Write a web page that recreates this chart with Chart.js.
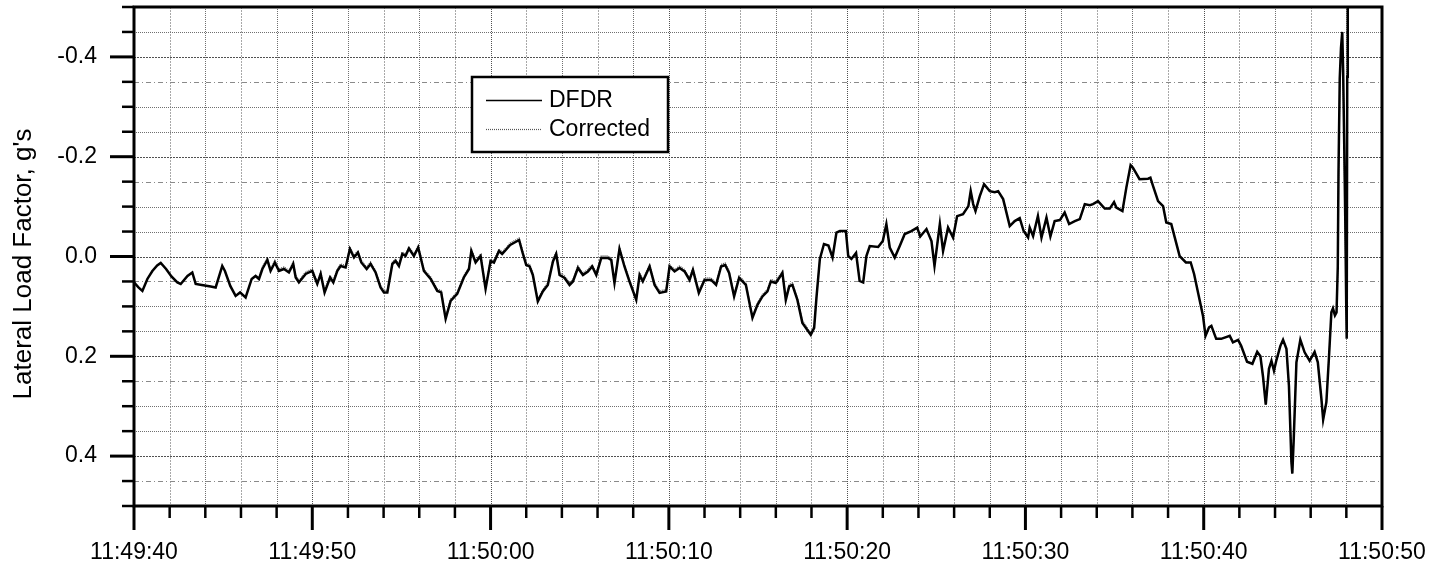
<!DOCTYPE html>
<html>
<head>
<meta charset="utf-8">
<title>Lateral Load Factor</title>
<script src="https://cdn.jsdelivr.net/npm/chart.js@4.4.1/dist/chart.umd.min.js"></script>
<style>
  html, body { margin: 0; padding: 0; background: #fff; }
  #wrap { width: 1449px; height: 571px; position: relative; }
</style>
</head>
<body>
<div id="wrap"><canvas id="chart"></canvas></div>
<script>
// Time axis: seconds after 11:49:40
const times = [
  0, 0.25, 0.47, 0.75, 1.03, 1.30, 1.50, 1.80, 2.10, 2.43,
  2.62, 3.00, 3.27, 3.46, 3.80, 4.30, 4.58, 4.95, 5.10, 5.40,
  5.70, 5.95, 6.26, 6.60, 6.82, 7.01, 7.20, 7.48, 7.66, 7.90,
  8.13, 8.41, 8.69, 8.93, 9.07, 9.25, 9.63, 10.00, 10.28, 10.47,
  10.69, 11.00, 11.18, 11.40, 11.59, 11.87, 12.11, 12.34, 12.56, 12.75,
  13.05, 13.27, 13.55, 13.83, 14.02, 14.21, 14.49, 14.67, 14.86, 15.05,
  15.23, 15.42, 15.70, 15.94, 16.26, 16.64, 17.01, 17.23, 17.48, 17.76,
  18.13, 18.50, 18.79, 18.92, 19.16, 19.44, 19.72, 20.00, 20.19, 20.47,
  20.65, 21.10, 21.60, 21.80, 22.00, 22.19, 22.37, 22.65, 22.93, 23.21,
  23.50, 23.68, 23.87, 24.15, 24.43, 24.62, 24.90, 25.18, 25.46, 25.70,
  25.93, 26.21, 26.58, 26.77, 26.95, 27.23, 27.51, 27.79, 28.17, 28.36,
  28.54, 28.92, 29.20, 29.48, 29.85, 30.04, 30.32, 30.60, 30.88, 31.16,
  31.35, 31.68, 32.00, 32.37, 32.65, 32.93, 33.16, 33.38, 33.66, 33.94,
  34.32, 34.69, 34.97, 35.25, 35.53, 35.72, 36.00, 36.37, 36.56, 36.75,
  36.93, 37.21, 37.49, 37.96, 38.15, 38.28, 38.47, 38.70, 38.95, 39.18,
  39.40, 39.59, 39.93, 40.06, 40.24, 40.50, 40.70, 40.90, 41.08, 41.27,
  41.74, 42.00, 42.20, 42.39, 42.67, 42.95, 43.23, 43.60, 43.93, 44.10,
  44.45, 44.73, 44.90, 45.20, 45.38, 45.66, 45.94, 46.17, 46.50, 46.80,
  46.93, 47.07, 47.20, 47.44, 47.68, 48.00, 48.28, 48.47, 48.75, 49.12,
  49.40, 49.68, 49.90, 50.15, 50.24, 50.43, 50.70, 50.90, 51.18, 51.40,
  51.64, 51.93, 52.20, 52.45, 52.77, 53.05, 53.33, 53.61, 53.79, 54.07,
  54.45, 54.73, 54.97, 55.10, 55.44, 55.66, 55.90, 56.03, 56.40, 56.88,
  57.01, 57.16, 57.44, 57.72, 57.90, 58.18, 58.65, 59.00, 59.27, 59.46,
  59.74, 59.96, 60.10, 60.30, 60.43, 60.70, 60.98, 61.46, 61.64, 61.93,
  62.10, 62.43, 62.73, 63.00, 63.18, 63.33, 63.48, 63.66, 63.80, 63.94,
  64.07, 64.30, 64.45, 64.64, 64.78, 64.92, 64.97, 65.05, 65.20, 65.42,
  65.66, 65.94, 66.22, 66.40, 66.60, 66.70, 66.88, 67.03, 67.16, 67.25,
  67.36, 67.45, 67.52, 67.56, 67.63, 67.70, 67.77, 67.82, 67.88, 67.94, 67.99, 68.02, 68.05, 68.08
];

// DFDR lateral load factor, g's
const dfdr = [
  0.052, 0.062, 0.069, 0.045, 0.029, 0.018, 0.013, 0.025, 0.040, 0.052,
  0.055, 0.039, 0.032, 0.055, 0.057, 0.060, 0.062, 0.019, 0.029, 0.059,
  0.079, 0.072, 0.082, 0.045, 0.039, 0.045, 0.025, 0.007, 0.029, 0.012,
  0.029, 0.025, 0.032, 0.015, 0.042, 0.052, 0.035, 0.029, 0.055, 0.035,
  0.072, 0.042, 0.052, 0.029, 0.019, 0.022, -0.015, 0.002, -0.008, 0.012,
  0.025, 0.015, 0.032, 0.062, 0.072, 0.072, 0.015, 0.009, 0.019, -0.005,
  -0.001, -0.016, -0.001, -0.018, 0.029, 0.045, 0.069, 0.072, 0.125, 0.089,
  0.075, 0.042, 0.025, -0.011, 0.012, -0.001, 0.065, 0.009, 0.012, -0.011,
  -0.005, -0.023, -0.033, -0.007, 0.017, 0.020, 0.037, 0.090, 0.070, 0.057,
  0.010, -0.005, 0.037, 0.043, 0.057, 0.050, 0.023, 0.037, 0.030, 0.020,
  0.037, 0.003, 0.003, 0.007, 0.053, -0.015, 0.020, 0.050, 0.087, 0.037,
  0.050, 0.020, 0.057, 0.073, 0.070, 0.020, 0.030, 0.023, 0.030, 0.047,
  0.027, 0.073, 0.047, 0.047, 0.057, 0.020, 0.017, 0.033, 0.080, 0.043,
  0.057, 0.123, 0.097, 0.080, 0.070, 0.050, 0.053, 0.033, 0.087, 0.060,
  0.057, 0.087, 0.133, 0.157, 0.143, 0.082, 0.005, -0.025, -0.022, 0.002,
  -0.048, -0.051, -0.051, -0.001, 0.005, -0.007, 0.049, 0.052, -0.001, -0.021,
  -0.019, -0.031, -0.065, -0.018, 0.002, -0.021, -0.045, -0.051, -0.058, -0.040,
  -0.055, -0.031, 0.019, -0.065, -0.011, -0.058, -0.038, -0.081, -0.085, -0.101,
  -0.131, -0.105, -0.091, -0.121, -0.145, -0.131, -0.129, -0.131, -0.115, -0.061,
  -0.071, -0.077, -0.051, -0.038, -0.058, -0.041, -0.081, -0.038, -0.078, -0.040,
  -0.071, -0.073, -0.088, -0.065, -0.071, -0.075, -0.105, -0.103, -0.105, -0.111,
  -0.096, -0.096, -0.109, -0.098, -0.091, -0.138, -0.183, -0.178, -0.155, -0.156,
  -0.158, -0.141, -0.111, -0.101, -0.068, -0.065, -0.001, 0.012, 0.012, 0.035,
  0.082, 0.119, 0.159, 0.142, 0.139, 0.165, 0.165, 0.159, 0.172, 0.167,
  0.179, 0.211, 0.215, 0.191, 0.200, 0.242, 0.297, 0.225, 0.209, 0.229,
  0.209, 0.179, 0.167, 0.185, 0.259, 0.412, 0.435, 0.365, 0.212, 0.167,
  0.192, 0.209, 0.191, 0.212, 0.285, 0.327, 0.292, 0.199, 0.112, 0.104,
  0.118, 0.112, 0.020, -0.170, -0.357, -0.418, -0.450, -0.373, -0.227, -0.073, 0.087, 0.165, -0.360, -0.600
];

// Corrected lateral load factor, g's
const corrected = [
  0.052, 0.062, 0.069, 0.045, 0.029, 0.018, 0.013, 0.025, 0.040, 0.052,
  0.055, 0.039, 0.032, 0.055, 0.057, 0.060, 0.062, 0.019, 0.029, 0.059,
  0.079, 0.072, 0.082, 0.045, 0.039, 0.041, 0.021, 0.003, 0.025, 0.008,
  0.025, 0.021, 0.028, 0.011, 0.038, 0.048, 0.031, 0.025, 0.051, 0.031,
  0.068, 0.038, 0.048, 0.025, 0.015, 0.018, -0.019, -0.002, -0.012, 0.008,
  0.021, 0.011, 0.028, 0.058, 0.068, 0.068, 0.011, 0.005, 0.015, -0.009,
  -0.005, -0.020, -0.005, -0.022, 0.025, 0.041, 0.065, 0.068, 0.121, 0.085,
  0.071, 0.038, 0.021, -0.015, 0.008, -0.005, 0.061, 0.005, 0.008, -0.015,
  -0.009, -0.027, -0.037, -0.011, 0.013, 0.016, 0.033, 0.086, 0.066, 0.053,
  0.006, -0.009, 0.033, 0.039, 0.053, 0.046, 0.019, 0.033, 0.026, 0.016,
  0.033, -0.001, -0.001, 0.003, 0.049, -0.019, 0.016, 0.046, 0.083, 0.033,
  0.046, 0.016, 0.053, 0.069, 0.066, 0.016, 0.026, 0.019, 0.026, 0.043,
  0.023, 0.069, 0.043, 0.043, 0.053, 0.016, 0.013, 0.029, 0.076, 0.039,
  0.053, 0.119, 0.093, 0.076, 0.066, 0.046, 0.049, 0.029, 0.083, 0.056,
  0.053, 0.083, 0.129, 0.153, 0.139, 0.082, 0.005, -0.025, -0.022, 0.002,
  -0.048, -0.051, -0.051, -0.001, 0.005, -0.007, 0.049, 0.052, -0.001, -0.021,
  -0.019, -0.031, -0.065, -0.018, 0.002, -0.021, -0.045, -0.051, -0.058, -0.040,
  -0.055, -0.031, 0.019, -0.065, -0.011, -0.058, -0.038, -0.081, -0.085, -0.101,
  -0.131, -0.105, -0.091, -0.121, -0.145, -0.131, -0.129, -0.131, -0.115, -0.061,
  -0.071, -0.077, -0.051, -0.038, -0.058, -0.041, -0.081, -0.038, -0.078, -0.040,
  -0.071, -0.073, -0.088, -0.065, -0.071, -0.075, -0.105, -0.103, -0.105, -0.111,
  -0.096, -0.096, -0.109, -0.098, -0.091, -0.138, -0.183, -0.178, -0.155, -0.156,
  -0.158, -0.141, -0.111, -0.101, -0.068, -0.065, -0.001, 0.012, 0.012, 0.035,
  0.082, 0.119, 0.159, 0.142, 0.139, 0.165, 0.165, 0.159, 0.172, 0.167,
  0.179, 0.211, 0.215, 0.191, 0.200, 0.242, 0.297, 0.225, 0.209, 0.229,
  0.209, 0.179, 0.167, 0.185, 0.259, 0.412, 0.435, 0.365, 0.212, 0.167,
  0.192, 0.209, 0.191, 0.212, 0.285, 0.327, 0.292, 0.199, 0.112, 0.104,
  0.118, 0.112, 0.030, -0.150, -0.330, -0.400, -0.430, -0.360, -0.215, -0.060, 0.090, 0.160, -0.340, -0.600
];

// Axis ticks and title
const xTickValues = [0, 10, 20, 30, 40, 50, 60, 70];
const xTickLabels = ['11:49:40', '11:49:50', '11:50:00', '11:50:10', '11:50:20', '11:50:30', '11:50:40', '11:50:50'];
const yTickValues = [-0.4, -0.2, 0, 0.2, 0.4];
const yTickLabels = ['-0.4', '-0.2', '0.0', '0.2', '0.4'];
const yTitle = "Lateral Load Factor, g's";

const X_MIN = 0, X_MAX = 70, X_MINOR = 2;
const Y_MIN = -0.5, Y_MAX = 0.5, Y_MINOR = 0.05;

const FONT = "'Liberation Sans', Arial, Helvetica, sans-serif";
Chart.defaults.font.family = FONT;
Chart.defaults.color = '#000';

// Dotted grid, boxed frame with outward ticks, axis title and an inset legend
const framePlugin = {
  id: 'framePlugin',
  beforeDatasetsDraw(chart) {
    const { ctx, chartArea: a, scales: { x, y } } = chart;
    ctx.save();
    ctx.lineWidth = 1;
    const nx = Math.round((X_MAX - X_MIN) / X_MINOR);
    for (let i = 1; i < nx; i++) {
      const t = X_MIN + i * X_MINOR;
      const px = Math.round(x.getPixelForValue(t)) + 0.5;
      if (i % 5 === 0) { ctx.strokeStyle = '#505050'; ctx.setLineDash([1, 1]); }
      else if (i % 2 === 0) { ctx.strokeStyle = '#707070'; ctx.setLineDash([1, 1]); }
      else { ctx.strokeStyle = '#a8a8a8'; ctx.setLineDash([2, 1]); }
      ctx.beginPath(); ctx.moveTo(px, a.top); ctx.lineTo(px, a.bottom); ctx.stroke();
    }
    const ny = Math.round((Y_MAX - Y_MIN) / Y_MINOR);
    for (let k = 1; k < ny; k++) {
      const v = Y_MIN + k * Y_MINOR;
      const py = Math.round(y.getPixelForValue(v)) + 0.5;
      const m = k % 4;
      if (m === 2) { ctx.strokeStyle = '#505050'; ctx.setLineDash([2, 1]); }
      else if (m === 3) { ctx.strokeStyle = '#8a8a8a'; ctx.setLineDash([5, 3, 1, 3]); }
      else { ctx.strokeStyle = '#707070'; ctx.setLineDash([1, 1]); }
      ctx.beginPath(); ctx.moveTo(a.left, py); ctx.lineTo(a.right, py); ctx.stroke();
    }
    ctx.restore();
  },
  afterDatasetsDraw(chart) {
    const { ctx, chartArea: a, scales: { x, y } } = chart;
    ctx.save();
    ctx.strokeStyle = '#000';
    ctx.setLineDash([]);
    ctx.lineCap = 'butt';
    // tick marks on the time axis
    const nx = Math.round((X_MAX - X_MIN) / X_MINOR);
    for (let i = 0; i <= nx; i++) {
      const t = X_MIN + i * X_MINOR;
      const px = x.getPixelForValue(t);
      const major = xTickValues.includes(t);
      ctx.lineWidth = major ? 3 : 2.5;
      ctx.beginPath(); ctx.moveTo(px, a.bottom); ctx.lineTo(px, a.bottom + (major ? 24 : 12)); ctx.stroke();
    }
    // tick marks on the load factor axis
    const ny = Math.round((Y_MAX - Y_MIN) / Y_MINOR);
    for (let k = 0; k <= ny; k++) {
      const v = Y_MIN + k * Y_MINOR;
      const py = y.getPixelForValue(v);
      const major = (k % 4 === 2);
      ctx.lineWidth = major ? 3 : 2.5;
      ctx.beginPath(); ctx.moveTo(a.left, py); ctx.lineTo(a.left - (major ? 24 : 12), py); ctx.stroke();
    }
    // frame
    ctx.lineWidth = 3;
    ctx.strokeRect(a.left, a.top, a.right - a.left, a.bottom - a.top);
    ctx.restore();
  },
  afterDraw(chart) {
    const { ctx } = chart;
    const ds = chart.data.datasets;
    ctx.save();
    // rotated axis title
    ctx.translate(23.5, 264);
    ctx.rotate(-Math.PI / 2);
    ctx.font = '26px ' + FONT;
    ctx.fillStyle = '#000';
    ctx.textAlign = 'center';
    ctx.textBaseline = 'middle';
    ctx.fillText(yTitle, 0, 0);
    ctx.restore();

    // legend box
    const bx = 472, by = 77, bw = 196, bh = 75;
    ctx.save();
    ctx.fillStyle = '#fff';
    ctx.fillRect(bx, by, bw, bh);
    ctx.strokeStyle = '#000';
    ctx.lineWidth = 2.5;
    ctx.setLineDash([]);
    ctx.strokeRect(bx, by, bw, bh);
    ctx.font = '23px ' + FONT;
    ctx.textBaseline = 'middle';
    ctx.textAlign = 'left';
    const rows = [100, 129];
    ds.forEach((d, i) => {
      const ry = rows[i] + 0.5;
      ctx.strokeStyle = d.borderColor;
      ctx.lineWidth = i === 0 ? 1.6 : 1.2;
      ctx.setLineDash(d.borderDash || []);
      ctx.beginPath(); ctx.moveTo(486, ry); ctx.lineTo(542, ry); ctx.stroke();
      ctx.fillStyle = '#000';
      ctx.fillText(d.label, 549, rows[i] + 1);
    });
    ctx.restore();
  }
};

const ctx = document.getElementById('chart').getContext('2d');
new Chart(ctx, {
  type: 'line',
  data: {
    datasets: [
      {
        label: 'DFDR',
        data: times.map((t, i) => ({ x: t, y: dfdr[i] })),
        borderColor: '#000',
        borderWidth: 2.5,
        pointRadius: 0,
        tension: 0,
        fill: false
      },
      {
        label: 'Corrected',
        data: times.map((t, i) => ({ x: t, y: corrected[i] })),
        borderColor: '#555',
        borderWidth: 1.3,
        borderDash: [1, 1],
        pointRadius: 0,
        tension: 0,
        fill: false
      }
    ]
  },
  options: {
    responsive: true,
    maintainAspectRatio: false,
    animation: false,
    devicePixelRatio: 1,
    layout: { autoPadding: false, padding: { top: 7, right: 67, left: 0, bottom: 0 } },
    plugins: { legend: { display: false }, tooltip: { enabled: false } },
    scales: {
      x: {
        type: 'linear', min: X_MIN, max: X_MAX,
        afterBuildTicks: s => { s.ticks = xTickValues.map(v => ({ value: v })); },
        afterFit: s => { s.height = 65; s.paddingLeft = 0; s.paddingRight = 0; },
        grid: { display: false, drawTicks: false, tickLength: 0 },
        border: { display: false },
        ticks: {
          font: { size: 23 }, padding: 33, maxRotation: 0, minRotation: 0, autoSkip: false,
          callback: (v, i) => xTickLabels[i]
        }
      },
      y: {
        type: 'linear', reverse: true, min: Y_MIN, max: Y_MAX,
        afterBuildTicks: s => { s.ticks = yTickValues.map(v => ({ value: v })); },
        afterFit: s => { s.width = 134; s.paddingTop = 0; s.paddingBottom = 0; },
        grid: { display: false, drawTicks: false, tickLength: 0 },
        border: { display: false },
        ticks: {
          font: { size: 23 }, padding: 37, autoSkip: false,
          callback: (v, i) => yTickLabels[i]
        }
      }
    }
  },
  plugins: [framePlugin]
});
</script>
</body>
</html>
